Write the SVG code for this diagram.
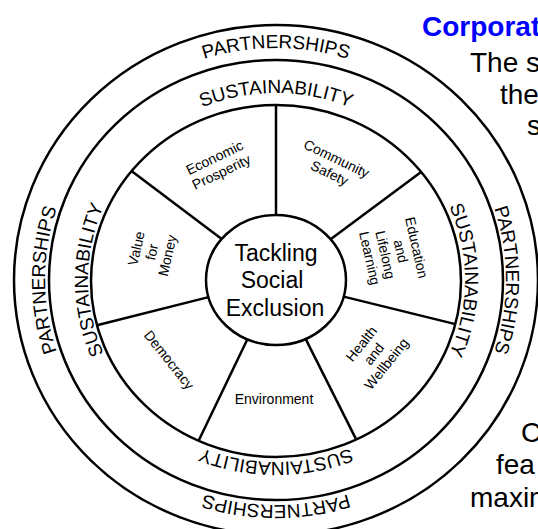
<svg xmlns="http://www.w3.org/2000/svg" width="538" height="529" viewBox="0 0 538 529">
  <style>
    .ring { fill: none; stroke: #000; stroke-width: 2.5; }
    .wedge { fill: #fff; stroke: none; }
    .divider { stroke: #000; stroke-width: 2.5; fill: none; }
    .hub { fill: #fff; stroke: #000; stroke-width: 2.5; }
    .band { font-family: "Liberation Sans", Arial, sans-serif; font-size: 19px; fill: #000; }
    .lbl { font-family: "Liberation Sans", Arial, sans-serif; font-size: 14px; fill: #000; text-anchor: middle; }
    .hubtxt { font-family: "Liberation Sans", Arial, sans-serif; font-size: 23px; fill: #000; text-anchor: middle; }
    .slide { font-family: "Liberation Sans", Arial, sans-serif; font-size: 28px; fill: #000; }
    .title { font-family: "Liberation Sans", Arial, sans-serif; font-size: 28px; font-weight: bold; fill: #0000ff; }
  </style>
  <defs>
    <!-- baselines for the ring captions, all running clockwise -->
    <path id="pTop" d="M276 512 A236 232 0 0 1 276 48 A236 232 0 0 1 276 512"/>
    <path id="pBottom" d="M276 55 A236 225 0 0 1 276 505 A236 225 0 0 1 276 55"/>
    <path id="pLeft" d="M507 280 A231 226 0 0 1 45 280 A231 226 0 0 1 507 280"/>
    <path id="pRight" d="M46 280 A230 226 0 0 1 506 280 A230 226 0 0 1 46 280"/>
    <path id="sTop" d="M276 469 A193 188 0 0 1 276 93 A193 188 0 0 1 276 469"/>
    <path id="sBottom" d="M276 98 A193 182 0 0 1 276 462 A193 182 0 0 1 276 98"/>
    <path id="sLeft" d="M464 280 A188 184 0 0 1 88 280 A188 184 0 0 1 464 280"/>
    <path id="sRight" d="M87 280 A189 184 0 0 1 465 280 A189 184 0 0 1 87 280"/>
  </defs>

  <rect width="538" height="529" fill="#fff"/>

  <!-- outer bands -->
  <g id="partnerships">
    <ellipse class="ring" cx="276" cy="280" rx="262" ry="255"/>
    <text class="band"><textPath href="#pTop" startOffset="50%" text-anchor="middle">PARTNERSHIPS</textPath></text>
    <text class="band"><textPath href="#pBottom" startOffset="50%" text-anchor="middle">PARTNERSHIPS</textPath></text>
    <text class="band"><textPath href="#pLeft" startOffset="50%" text-anchor="middle">PARTNERSHIPS</textPath></text>
    <text class="band"><textPath href="#pRight" startOffset="50%" text-anchor="middle">PARTNERSHIPS</textPath></text>
  </g>
  <g id="sustainability">
    <ellipse class="ring" cx="276" cy="280" rx="227" ry="220"/>
    <text class="band"><textPath href="#sTop" startOffset="50%" text-anchor="middle">SUSTAINABILITY</textPath></text>
    <text class="band"><textPath href="#sBottom" startOffset="50%" text-anchor="middle">SUSTAINABILITY</textPath></text>
    <text class="band"><textPath href="#sLeft" startOffset="50%" text-anchor="middle">SUSTAINABILITY</textPath></text>
    <text class="band"><textPath href="#sRight" startOffset="50%" text-anchor="middle">SUSTAINABILITY</textPath></text>
  </g>

  <!-- seven sectors of the wheel -->
  <g id="community-safety">
    <path class="wedge" d="M276 215 L276 105 A185 176 0 0 1 421.1 171.9 L330.6 239.3 Z"/>
    <text class="lbl" transform="translate(333 166) rotate(25.71)"><tspan x="0" y="-3.3">Community</tspan><tspan x="0" y="12.7">Safety</tspan></text>
  </g>
  <g id="education">
    <path class="wedge" d="M330.6 239.3 L421.1 171.9 A185 176 0 0 1 455.4 324.1 L343.7 296.6 Z"/>
    <text class="lbl" transform="translate(393 253) rotate(77.14)"><tspan x="0" y="-19.3">Education</tspan><tspan x="0" y="-3.3">and</tspan><tspan x="0" y="12.7">Lifelong</tspan><tspan x="0" y="28.7">Learning</tspan></text>
  </g>
  <g id="health">
    <path class="wedge" d="M343.7 296.6 L455.4 324.1 A185 176 0 0 1 356.3 439.6 L305.6 338.9 Z"/>
    <text class="lbl" transform="translate(374 354) rotate(-51.43)"><tspan x="0" y="-11.3">Health</tspan><tspan x="0" y="4.7">and</tspan><tspan x="0" y="20.7">Wellbeing</tspan></text>
  </g>
  <g id="environment">
    <path class="wedge" d="M305.6 338.9 L356.3 439.6 A185 176 0 0 1 198.6 440.8 L247.4 339.3 Z"/>
    <text class="lbl" x="274" y="404">Environment</text>
  </g>
  <g id="democracy">
    <path class="wedge" d="M247.4 339.3 L198.6 440.8 A185 176 0 0 1 97 325.3 L208.5 297.1 Z"/>
    <text class="lbl" transform="translate(169 360) rotate(51.43)" y="4.7">Democracy</text>
  </g>
  <g id="value-for-money">
    <path class="wedge" d="M208.5 297.1 L97 325.3 A185 176 0 0 1 131.5 171.1 L221.7 239 Z"/>
    <text class="lbl" transform="translate(152 252) rotate(-77.14)"><tspan x="0" y="-11.3">Value</tspan><tspan x="0" y="4.7">for</tspan><tspan x="0" y="20.7">Money</tspan></text>
  </g>
  <g id="economic-prosperity">
    <path class="wedge" d="M221.7 239 L131.5 171.1 A185 176 0 0 1 276 105 L276 215 Z"/>
    <text class="lbl" transform="translate(218 165) rotate(-25.71)"><tspan x="0" y="-3.3">Economic</tspan><tspan x="0" y="12.7">Prosperity</tspan></text>
  </g>

  <!-- wheel rim and the spokes between sectors -->
  <g id="dividers">
    <ellipse class="ring" cx="276" cy="281" rx="185" ry="176"/>
    <line class="divider" x1="276" y1="215" x2="276" y2="105"/>
    <line class="divider" x1="330.6" y1="239.3" x2="421.1" y2="171.9"/>
    <line class="divider" x1="343.7" y1="296.6" x2="455.4" y2="324.1"/>
    <line class="divider" x1="305.6" y1="338.9" x2="356.3" y2="439.6"/>
    <line class="divider" x1="247.4" y1="339.3" x2="198.6" y2="440.8"/>
    <line class="divider" x1="208.5" y1="297.1" x2="97" y2="325.3"/>
    <line class="divider" x1="221.7" y1="239" x2="131.5" y2="171.1"/>
  </g>

  <!-- hub -->
  <g id="tackling-social-exclusion">
    <ellipse class="hub" cx="276" cy="280" rx="70" ry="65"/>
    <text class="hubtxt" x="276" y="261">Tackling</text>
    <text class="hubtxt" x="272" y="288">Social</text>
    <text class="hubtxt" x="275" y="316">Exclusion</text>
  </g>

  <!-- slide text running off the right edge -->
  <g id="slide-text">
    <text class="title" x="422" y="36">Corporat</text>
    <text class="slide" x="470" y="72">The s</text>
    <text class="slide" x="500" y="104">the</text>
    <text class="slide" x="527" y="135">s</text>
    <text class="slide" x="521" y="442">C</text>
    <text class="slide" x="496" y="474">fea</text>
    <text class="slide" x="470" y="507">maxim</text>
  </g>
</svg>
